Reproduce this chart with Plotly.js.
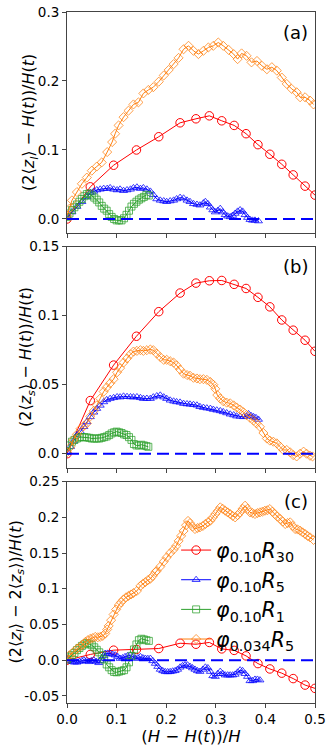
<!DOCTYPE html>
<html><head><meta charset="utf-8">
<script src="https://cdn.plot.ly/plotly-3.0.1.min.js"></script>
<style>html,body{margin:0;padding:0;background:#fff}#chart{width:332px;height:747px}</style>
</head><body><div id="chart"></div>
<script>
// ---------- data ----------
const seriesNames = ['<i>φ</i><sub>0.10</sub><i>R</i><sub>30</sub>','<i>φ</i><sub>0.10</sub><i>R</i><sub>5</sub>','<i>φ</i><sub>0.10</sub><i>R</i><sub>1</sub>','<i>φ</i><sub>0.034</sub><i>R</i><sub>5</sub>'];
const panelLabels = ['(a)','(b)','(c)'];
const xTickVals = [0,0.1,0.2,0.3,0.4,0.5];
const xTickText = ['0.0','0.1','0.2','0.3','0.4','0.5'];
const yTickValsA = [0,0.1,0.2,0.3];
const yTickTextA = ['0.0','0.1','0.2','0.3'];
const yTickValsB = [0,0.05,0.1,0.15];
const yTickTextB = ['0.0','0.05','0.1','0.15'];
const yTickValsC = [-0.05,0,0.05,0.1,0.15,0.2,0.25];
const yTickTextC = ['-0.05','0.0','0.05','0.1','0.15','0.2','0.25'];
const yTitles = [
  '(2⟨<i>z</i><sub><i>l</i></sub>⟩ − <i>H</i>(<i>t</i>))/<i>H</i>(<i>t</i>)',
  '(2⟨<i>z</i><sub><i>s</i></sub>⟩ − <i>H</i>(<i>t</i>))/<i>H</i>(<i>t</i>)',
  '(2⟨<i>z</i><sub><i>l</i></sub>⟩ − 2⟨<i>z</i><sub><i>s</i></sub>⟩)/<i>H</i>(<i>t</i>)'
];
const xTitle = '(<i>H</i> − <i>H</i>(<i>t</i>))/<i>H</i>';
const zeroX = [0,0.5];
const zeroY = [0,0];

// red (phi0.10 R30)
const xRed = [0,0.047,0.094,0.140,0.185,0.228,0.260,0.287,0.312,0.337,0.361,0.385,0.409,0.433,0.456,0.480,0.500];
const yRedA = [0,0.0466,0.0779,0.1000,0.1192,0.1394,0.1452,0.1495,0.1423,0.1356,0.1236,0.1077,0.0938,0.0793,0.0639,0.0476,0.0346];
const yRedB = [0,0.0385,0.0642,0.0851,0.1029,0.1164,0.1236,0.1253,0.1255,0.1227,0.1197,0.1133,0.1064,0.0969,0.0895,0.0822,0.0742];
const yRedC = [0,0.008,0.014,0.015,0.0163,0.0237,0.0223,0.0248,0.0158,0.0137,0.006,-0.0048,-0.0123,-0.0182,-0.0258,-0.0349,-0.0395];

// panel (a)
const xBlueA = [0.000,0.010,0.020,0.030,0.040,0.047,0.054,0.060,0.067,0.074,0.081,0.087,0.094,0.101,0.107,0.114,0.121,0.128,0.134,0.141,0.148,0.154,0.161,0.168,0.174,0.181,0.188,0.195,0.201,0.208,0.215,0.221,0.228,0.235,0.242,0.248,0.255,0.262,0.268,0.275,0.279,0.284,0.289,0.294,0.299,0.304,0.309,0.314,0.319,0.324,0.329,0.334,0.339,0.344,0.349,0.354,0.359,0.364,0.369,0.374,0.379,0.386];
const yBlueA = [0.002,0.010,0.018,0.025,0.032,0.038,0.040,0.042,0.043,0.044,0.044,0.045,0.043,0.042,0.043,0.041,0.042,0.043,0.045,0.046,0.044,0.045,0.043,0.040,0.035,0.029,0.027,0.026,0.025,0.026,0.027,0.029,0.031,0.030,0.027,0.025,0.022,0.021,0.020,0.023,0.025,0.022,0.017,0.013,0.010,0.012,0.015,0.010,0.006,0.004,0.003,0.005,0.008,0.011,0.013,0.011,0.006,0.002,-0.001,-0.002,-0.002,-0.003];
const xGreenA = [0.000,0.005,0.010,0.015,0.020,0.025,0.030,0.035,0.040,0.045,0.050,0.055,0.060,0.065,0.070,0.075,0.080,0.085,0.090,0.095,0.100,0.105,0.110,0.115,0.120,0.125,0.130,0.135,0.140,0.145,0.150,0.155,0.160,0.165];
const yGreenA = [0.003,0.008,0.013,0.017,0.021,0.025,0.029,0.033,0.036,0.037,0.034,0.031,0.028,0.024,0.019,0.015,0.012,0.007,0.003,0.000,-0.002,-0.002,-0.002,0.001,0.006,0.012,0.018,0.022,0.025,0.028,0.030,0.032,0.035,0.034];
const xOrangeA = [0.000,0.005,0.010,0.020,0.030,0.040,0.050,0.060,0.070,0.081,0.091,0.097,0.104,0.114,0.124,0.134,0.144,0.154,0.164,0.174,0.185,0.195,0.205,0.215,0.225,0.235,0.245,0.255,0.265,0.275,0.285,0.295,0.305,0.315,0.326,0.336,0.344,0.352,0.362,0.372,0.383,0.393,0.403,0.413,0.423,0.433,0.443,0.453,0.463,0.470,0.480,0.490,0.497];
const yOrangeA = [0.005,0.015,0.027,0.039,0.051,0.060,0.070,0.076,0.082,0.097,0.1115,0.1235,0.1356,0.1476,0.157,0.166,0.169,0.182,0.187,0.191,0.199,0.208,0.216,0.2245,0.2335,0.246,0.251,0.2437,0.239,0.2437,0.2486,0.251,0.2558,0.251,0.245,0.239,0.2317,0.240,0.2365,0.227,0.229,0.222,0.217,0.220,0.215,0.205,0.1957,0.1885,0.1837,0.1764,0.1764,0.1716,0.166];

// panel (b)
const xBlueB = [0.000,0.007,0.013,0.020,0.027,0.034,0.040,0.047,0.054,0.060,0.067,0.074,0.080,0.087,0.094,0.101,0.107,0.114,0.121,0.128,0.134,0.141,0.148,0.154,0.161,0.168,0.174,0.181,0.188,0.195,0.201,0.208,0.215,0.221,0.228,0.235,0.242,0.248,0.255,0.262,0.268,0.275,0.282,0.289,0.295,0.302,0.309,0.315,0.322,0.329,0.336,0.342,0.349,0.356,0.362,0.366,0.371,0.376,0.381,0.386];
const yBlueB = [0.001,0.005,0.009,0.0135,0.016,0.0195,0.023,0.0267,0.030,0.0327,0.035,0.0375,0.039,0.0399,0.0405,0.0411,0.041,0.0416,0.0413,0.0411,0.041,0.0411,0.0405,0.0399,0.040,0.0399,0.041,0.0418,0.0423,0.041,0.0399,0.0387,0.038,0.0375,0.0372,0.0363,0.036,0.0358,0.0355,0.0351,0.034,0.0334,0.033,0.0327,0.032,0.0315,0.031,0.0303,0.0295,0.0286,0.028,0.0272,0.027,0.0267,0.027,0.0288,0.0275,0.0267,0.026,0.0248];
const xGreenB = [0.000,0.005,0.010,0.015,0.020,0.025,0.030,0.035,0.040,0.045,0.050,0.055,0.060,0.065,0.070,0.075,0.080,0.085,0.090,0.095,0.100,0.105,0.110,0.115,0.120,0.125,0.130,0.135,0.140,0.145,0.150,0.155,0.160,0.164];
const yGreenB = [0.002,0.006,0.0087,0.010,0.011,0.0118,0.012,0.012,0.0118,0.0115,0.011,0.011,0.011,0.011,0.0115,0.012,0.0125,0.0135,0.0147,0.0155,0.016,0.0155,0.015,0.014,0.0135,0.012,0.010,0.007,0.006,0.006,0.0065,0.006,0.0055,0.005];
const xOrangeB = [0.000,0.007,0.013,0.020,0.027,0.034,0.040,0.047,0.054,0.060,0.067,0.074,0.080,0.087,0.094,0.101,0.107,0.114,0.121,0.128,0.134,0.141,0.148,0.154,0.161,0.168,0.174,0.181,0.188,0.195,0.201,0.208,0.215,0.221,0.228,0.235,0.242,0.248,0.255,0.262,0.268,0.275,0.282,0.289,0.295,0.299,0.303,0.309,0.315,0.322,0.329,0.336,0.342,0.349,0.356,0.362,0.369,0.376,0.382,0.389,0.396,0.403,0.409,0.416,0.423,0.430,0.436,0.443,0.450,0.456,0.463,0.470,0.477,0.483,0.490,0.495];
const yOrangeB = [0.001,0.005,0.010,0.014,0.018,0.020,0.022,0.027,0.031,0.035,0.040,0.045,0.048,0.051,0.054,0.059,0.062,0.066,0.069,0.072,0.074,0.0745,0.075,0.0745,0.075,0.0755,0.075,0.0725,0.070,0.068,0.068,0.067,0.066,0.064,0.061,0.058,0.057,0.0565,0.055,0.0545,0.054,0.054,0.0535,0.052,0.050,0.047,0.0425,0.040,0.038,0.037,0.0365,0.035,0.0335,0.032,0.030,0.028,0.026,0.024,0.022,0.0195,0.015,0.011,0.0095,0.0087,0.0075,0.005,0.0027,0.0027,0.001,-0.001,-0.002,0.000,0.0015,0.000,-0.0015,-0.002];

// panel (c)
const xBlueC = [0.000,0.005,0.010,0.015,0.020,0.025,0.030,0.034,0.039,0.044,0.049,0.054,0.059,0.064,0.067,0.070,0.074,0.077,0.082,0.087,0.092,0.097,0.102,0.107,0.112,0.117,0.122,0.128,0.133,0.138,0.143,0.148,0.153,0.158,0.163,0.168,0.173,0.178,0.183,0.188,0.193,0.198,0.203,0.208,0.213,0.218,0.223,0.228,0.233,0.238,0.243,0.248,0.253,0.258,0.263,0.268,0.274,0.279,0.284,0.289,0.294,0.299,0.304,0.309,0.314,0.319,0.324,0.329,0.334,0.339,0.344,0.349,0.354,0.359,0.364,0.369,0.374,0.379,0.384,0.389];
const yBlueC = [0.000,-0.001,-0.002,-0.003,-0.003,-0.002,-0.001,0.000,-0.001,-0.0023,-0.001,0.000,-0.002,-0.0037,-0.001,0.0023,0.006,0.0093,0.0095,0.0093,0.008,0.007,0.005,0.0023,0.003,0.0047,0.006,0.007,0.005,0.0023,0.003,0.0047,0.003,0.0023,0.002,0.0023,-0.001,-0.0047,-0.009,-0.013,-0.015,-0.0163,-0.0165,-0.0163,-0.0155,-0.0149,-0.013,-0.010,-0.008,-0.007,-0.007,-0.009,-0.011,-0.013,-0.015,-0.016,-0.013,-0.010,-0.011,-0.016,-0.022,-0.023,-0.019,-0.016,-0.019,-0.021,-0.021,-0.021,-0.021,-0.020,-0.017,-0.014,-0.015,-0.019,-0.023,-0.029,-0.029,-0.027,-0.027,-0.028];
const xGreenC = [0.000,0.005,0.010,0.015,0.020,0.025,0.030,0.035,0.040,0.045,0.050,0.055,0.060,0.065,0.070,0.075,0.080,0.085,0.090,0.095,0.100,0.105,0.110,0.115,0.120,0.125,0.130,0.135,0.140,0.145,0.150,0.155,0.160,0.165];
const yGreenC = [0.001,0.004,0.007,0.010,0.014,0.017,0.020,0.022,0.024,0.023,0.021,0.018,0.0145,0.011,0.007,0.001,-0.006,-0.010,-0.014,-0.0165,-0.017,-0.016,-0.015,-0.014,-0.010,-0.003,0.006,0.015,0.022,0.028,0.030,0.029,0.028,0.027];
const xOrangeC = [0.000,0.005,0.013,0.020,0.027,0.032,0.037,0.042,0.047,0.052,0.057,0.062,0.067,0.072,0.077,0.081,0.084,0.089,0.094,0.099,0.104,0.109,0.114,0.119,0.124,0.129,0.134,0.141,0.148,0.153,0.158,0.163,0.168,0.173,0.178,0.181,0.188,0.195,0.201,0.208,0.215,0.220,0.225,0.230,0.235,0.240,0.244,0.248,0.253,0.258,0.263,0.268,0.274,0.279,0.284,0.289,0.294,0.299,0.304,0.309,0.314,0.319,0.324,0.329,0.334,0.339,0.344,0.349,0.354,0.359,0.364,0.369,0.374,0.379,0.384,0.389,0.394,0.399,0.404,0.409,0.414,0.419,0.424,0.430,0.435,0.440,0.445,0.450,0.455,0.460,0.465,0.470,0.475,0.480,0.485,0.490,0.497];
const yOrangeC = [0.002,0.007,0.0116,0.016,0.019,0.022,0.0256,0.028,0.0300,0.031,0.0326,0.032,0.0326,0.034,0.0372,0.043,0.0480,0.056,0.0640,0.071,0.0767,0.081,0.085,0.088,0.0900,0.092,0.094,0.0970,0.1040,0.107,0.1093,0.112,0.114,0.118,0.1233,0.125,0.131,0.138,0.144,0.150,0.155,0.160,0.167,0.174,0.181,0.189,0.195,0.192,0.187,0.1837,0.185,0.186,0.188,0.1907,0.193,0.1953,0.200,0.2047,0.209,0.214,0.212,0.2093,0.207,0.2047,0.202,0.200,0.203,0.207,0.212,0.2163,0.212,0.207,0.206,0.2047,0.206,0.207,0.208,0.2093,0.210,0.2116,0.208,0.2047,0.201,0.1977,0.194,0.1907,0.192,0.193,0.188,0.1837,0.183,0.1814,0.179,0.1767,0.174,0.172,0.1684];

// ---------- build ----------
const colors = ['#ff0000','#0000ff','#2ca02c','#ff7f0e'];
const symbols = ['circle-open','triangle-up-open','square-open','diamond-open'];
const msize = [8.5,7,7,7];
const panels = [
  {ax:'', xs:[xRed,xBlueA,xGreenA,xOrangeA], ys:[yRedA,yBlueA,yGreenA,yOrangeA]},
  {ax:'2', xs:[xRed,xBlueB,xGreenB,xOrangeB], ys:[yRedB,yBlueB,yGreenB,yOrangeB]},
  {ax:'3', xs:[xRed,xBlueC,xGreenC,xOrangeC], ys:[yRedC,yBlueC,yGreenC,yOrangeC]}
];
const traces = [];
panels.forEach((p,pi)=>{
  for(let s=0;s<4;s++){
    traces.push({
      x:p.xs[s], y:p.ys[s], type:'scatter', mode:'lines+markers',
      xaxis:'x'+p.ax, yaxis:'y'+p.ax,
      name:seriesNames[s], showlegend: pi===2,
      line:{color:colors[s], width:1},
      marker:{symbol:symbols[s], size:msize[s], color:colors[s], opacity: s===0?1:0.75, line:{width:1, color:colors[s]}}
    });
  }
  traces.push({x:zeroX, y:zeroY, type:'scatter', mode:'lines', xaxis:'x'+p.ax, yaxis:'y'+p.ax, showlegend:false,
    line:{color:'#0000ff', width:2, dash:'12px,6px'}});
});

const font = {family:'DejaVu Sans', color:'#000'};
function xax(anchor, labels){
  return {anchor:anchor, domain:[0,1], range:[0,0.5], tickvals:xTickVals, ticktext:xTickText, showticklabels:labels,
    ticks:'outside', ticklen:4, tickcolor:'#444', showline:true, mirror:true, linecolor:'#444', linewidth:1,
    showgrid:false, zeroline:false, tickfont:{family:'DejaVu Sans', size:13.5, color:'#000'}, automargin:false};
}
function yax(anchor, dom, rng, tv, tt){
  return {anchor:anchor, domain:dom, range:rng, tickvals:tv, ticktext:tt,
    ticks:'outside', ticklen:4, tickcolor:'#444', showline:true, mirror:true, linecolor:'#444', linewidth:1,
    showgrid:false, zeroline:false, tickfont:{family:'DejaVu Sans', size:13.5, color:'#000'}, automargin:false};
}
// y titles as rotated annotations, placed at the reference's horizontal positions (paper fraction of plot width)
const yTitleX = [-0.151, -0.163, -0.205];
const annotations = [];
panelLabels.forEach((t,i)=>{
  const xr = (i===0?'x':'x'+(i+1)), yr = (i===0?'y':'y'+(i+1));
  annotations.push({text:t, xref:xr+' domain', yref:yr+' domain', x:0.98, y:0.965, xanchor:'right', yanchor:'top',
    showarrow:false, font:{family:'DejaVu Sans', size:18, color:'#000'}});
  annotations.push({text:yTitles[i], xref:'paper', yref:yr+' domain', x:yTitleX[i], y:0.5, xanchor:'center', yanchor:'middle',
    textangle:-90, showarrow:false, font:{family:'DejaVu Sans', size:16, color:'#000'}});
});

const layout = {
  width:332, height:747, margin:{l:67, r:17, t:12, b:44},
  paper_bgcolor:'#fff', plot_bgcolor:'#fff', font:font,
  xaxis: xax('y', false),
  xaxis2: xax('y2', false),
  xaxis3: Object.assign(xax('y3', true), {title:{text:xTitle, font:{family:'DejaVu Sans', size:16.5, color:'#000'}, standoff:2}}),
  yaxis: yax('x', [0.6805,1], [-0.02,0.3], yTickValsA, yTickTextA),
  yaxis2: yax('x2', [0.3398,0.6604], [-0.0105,0.15], yTickValsB, yTickTextB),
  yaxis3: yax('x3', [0,0.3203], [-0.06,0.25], yTickValsC, yTickTextC),
  showlegend:true,
  legend:{x:0.44, xanchor:'left', y:0.25, yanchor:'top', bgcolor:'rgba(0,0,0,0)', borderwidth:0,
    font:{family:'DejaVu Sans', size:20.5, color:'#000'}, tracegroupgap:0},
  annotations: annotations
};
Plotly.newPlot('chart', traces, layout, {staticPlot:true, displayModeBar:false});
</script>
</body></html>
